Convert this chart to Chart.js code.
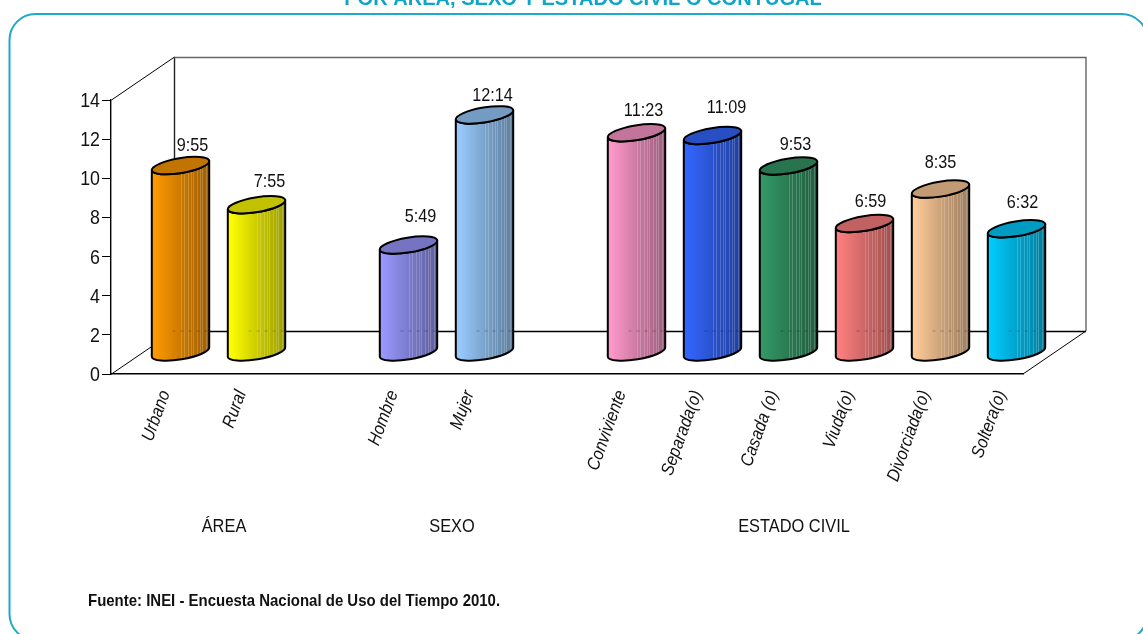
<!DOCTYPE html>
<html>
<head>
<meta charset="utf-8">
<style>html,body{margin:0;padding:0;background:#fff;overflow:hidden}canvas{display:block}</style>
<script src="https://cdn.jsdelivr.net/npm/chart.js@4"></script>
</head>
<body>
<canvas id="c" width="1143" height="634"></canvas>
<script>
const categories = ['Urbano','Rural','','Hombre','Mujer','','Conviviente','Separada(o)','Casada (o)','Viuda(o)','Divorciada(o)','Soltera(o)'];
const values = [9.55,7.55,null,5.49,12.14,null,11.23,11.09,9.53,6.59,8.35,6.32];
const valueLabels = ['9:55','7:55','','5:49','12:14','','11:23','11:09','9:53','6:59','8:35','6:32'];
const colors = ['#ff9900','#ffff00','#000000','#9999ff','#99ccff','#000000','#ff99cc','#3366ff','#339966','#ff8080','#ffcc99','#00ccff'];
const yTicks = [0,2,4,6,8,10,12,14];
const groupLabels = ['ÁREA','SEXO','ESTADO CIVIL'];
const titleText = 'POR ÁREA, SEXO Y ESTADO CIVIL O CONYUGAL';
const sourceText = 'Fuente: INEI - Encuesta Nacional de Uso del Tiempo 2010.';

const groupLabelX = [224,452,794];
const labelNudgeX = [12,13,0,12,8,0,7,14,7,6,0,6];
const labelNudgeY = [-21,-24,0,-30,-20,0,-23,-29,-22,-23,-28,-27];
const DEPTH_X = 63, DEPTH_Y = -43;
const face = '"Liberation Sans",Arial,sans-serif';
const stripes = [.5,.56,.63,.68,.72,.79,.84,.88,.94];

function shade(hex,f){
  const n=parseInt(hex.slice(1),16);
  return `rgb(${Math.round((n>>16&255)*f)},${Math.round((n>>8&255)*f)},${Math.round((n&255)*f)})`;
}
function cylinder(ctx,x,top,base,w,color){
  const a=w/2+0.6, b=7.4, th=-9.5*Math.PI/180;
  const ex=Math.cos(th)*a, ey=Math.sin(th)*a;
  const cx=x+DEPTH_X/2;
  const topY=top+DEPTH_Y/2, baseY=base+DEPTH_Y/2;
  const g=ctx.createLinearGradient(cx-ex,0,cx+ex,0);
  g.addColorStop(0,color);
  g.addColorStop(.08,shade(color,.98));
  g.addColorStop(.55,shade(color,.78));
  g.addColorStop(1,shade(color,.62));
  ctx.save();
  const body=()=>{
    ctx.beginPath();
    ctx.moveTo(cx-ex,topY-ey);
    ctx.lineTo(cx-ex,baseY-ey);
    ctx.ellipse(cx,baseY,a,b,th,Math.PI,0,true);
    ctx.lineTo(cx+ex,topY+ey);
    ctx.ellipse(cx,topY,a,b,th,0,Math.PI,false);
    ctx.closePath();
  };
  body();
  ctx.fillStyle=g; ctx.fill();
  ctx.save();
  ctx.clip();
  ctx.lineWidth=1; ctx.strokeStyle='rgba(255,255,255,.2)';
  stripes.forEach(s=>{
    const px=Math.round(cx-ex+2*ex*s)+.5;
    ctx.beginPath(); ctx.moveTo(px,topY-20); ctx.lineTo(px,baseY+20); ctx.stroke();
  });
  ctx.lineWidth=1; ctx.strokeStyle='rgba(0,0,0,.25)'; ctx.setLineDash([3,5]);
  ctx.beginPath(); ctx.moveTo(cx-8,base+DEPTH_Y+.5); ctx.lineTo(cx+ex,base+DEPTH_Y+.5); ctx.stroke();
  ctx.setLineDash([]);
  ctx.restore();
  body();
  ctx.lineWidth=2; ctx.strokeStyle='#000'; ctx.lineJoin='round'; ctx.stroke();
  ctx.beginPath();
  ctx.ellipse(cx,topY,a,b,th,0,Math.PI*2);
  ctx.fillStyle=shade(color,.76); ctx.fill(); ctx.stroke();
  ctx.restore();
}

// The page has no condensed face installed, so text is narrowed horizontally where it is drawn.
const canvasEl = document.getElementById('c');
const rawCtx = canvasEl.getContext('2d');
const baseFillText = rawCtx.fillText.bind(rawCtx);
let textSqueeze = 0.89;
rawCtx.fillText = function(t,x,y){
  rawCtx.save();
  rawCtx.translate(x,y+(rawCtx.textBaseline==='middle'?1.5:0));
  rawCtx.scale(textSqueeze,1);
  baseFillText(t,0,0);
  rawCtx.restore();
};

const scene = {
  id:'scene',
  beforeDraw(chart){
    const {ctx,chartArea:{left,right,top,bottom}}=chart;
    ctx.save();
    ctx.strokeStyle='#1fa9c9'; ctx.lineWidth=2;
    ctx.beginPath(); ctx.roundRect(9.5,14,1138,626,26); ctx.stroke();
    ctx.fillStyle='#0ea5c6'; ctx.font='bold 21px '+face; ctx.textAlign='center'; ctx.textBaseline='alphabetic';
    textSqueeze=.955;
    ctx.fillText(titleText,583,4.5);
    textSqueeze=.89;
    ctx.strokeStyle='#000'; ctx.lineWidth=1;
    ctx.beginPath();
    ctx.moveTo(left+.5,top); ctx.lineTo(left+DEPTH_X+.5,top+DEPTH_Y);
    ctx.moveTo(left+.5,bottom); ctx.lineTo(left+DEPTH_X+.5,bottom+DEPTH_Y);
    ctx.moveTo(right,bottom); ctx.lineTo(right+DEPTH_X,bottom+DEPTH_Y);
    ctx.stroke();
    ctx.strokeStyle='#222'; ctx.lineWidth=1.4;
    ctx.beginPath(); ctx.moveTo(left+DEPTH_X+.5,bottom+DEPTH_Y); ctx.lineTo(left+DEPTH_X+.5,top+DEPTH_Y); ctx.stroke();
    ctx.strokeStyle='#666'; ctx.lineWidth=1.4;
    ctx.beginPath(); ctx.moveTo(left+DEPTH_X+.5,top+DEPTH_Y+.5); ctx.lineTo(right+DEPTH_X,top+DEPTH_Y+.5); ctx.lineTo(right+DEPTH_X,bottom+DEPTH_Y); ctx.stroke();
    ctx.strokeStyle='#000'; ctx.lineWidth=1.4;
    ctx.beginPath(); ctx.moveTo(left+DEPTH_X,bottom+DEPTH_Y+.5); ctx.lineTo(right+DEPTH_X,bottom+DEPTH_Y+.5); ctx.stroke();
    ctx.restore();
  },
  beforeDatasetDraw(chart,args){
    const {ctx}=chart, meta=args.meta, ds=chart.data.datasets[args.index];
    meta.data.forEach((el,i)=>{
      if(values[i]==null) return;
      const p=el.getProps(['x','y','base','width'],true);
      cylinder(ctx,p.x,p.y,p.base,p.width,ds.backgroundColor[i]);
    });
    return false;
  },
  afterDraw(chart){
    const {ctx}=chart, meta=chart.getDatasetMeta(0);
    ctx.save();
    ctx.fillStyle='#111'; ctx.textAlign='center'; ctx.textBaseline='middle';
    ctx.font='18px '+face; textSqueeze=.9;
    meta.data.forEach((el,i)=>{
      if(values[i]==null) return;
      ctx.fillText(valueLabels[i],el.x+DEPTH_X/2+labelNudgeX[i],el.y+DEPTH_Y/2+labelNudgeY[i]);
    });
    ctx.font='18px '+face; textSqueeze=.91;
    groupLabels.forEach((t,i)=>ctx.fillText(t,groupLabelX[i],526));
    ctx.textAlign='left'; ctx.font='bold 17px '+face; ctx.fillStyle='#111'; textSqueeze=.88;
    ctx.fillText(sourceText,88,600);
    textSqueeze=.89;
    ctx.restore();
  }
};

new Chart(canvasEl,{
  type:'bar',
  data:{labels:categories,datasets:[{data:values,backgroundColor:colors,categoryPercentage:.75,barPercentage:1}]},
  options:{
    responsive:false,animation:false,
    layout:{padding:{top:100,right:120,left:0,bottom:0}},
    plugins:{legend:{display:false},title:{display:false},tooltip:{enabled:false}},
    scales:{
      x:{
        afterFit(s){s.height=260;},
        grid:{display:false},
        border:{display:true,color:'#000',width:1.4},
        ticks:{autoSkip:false,minRotation:70,maxRotation:70,padding:5,labelOffset:15,color:'#111',font:{family:face,size:18,style:'italic'}}
      },
      y:{
        min:0,max:14,
        afterFit(s){s.width=111;},
        afterBuildTicks(s){s.ticks=yTicks.map(v=>({value:v}));},
        grid:{drawOnChartArea:false,drawTicks:true,tickLength:9,color:'#000',lineWidth:1},
        border:{display:true,color:'#000',width:1.4},
        ticks:{padding:2,color:'#111',font:{family:face,size:20}}
      }
    }
  },
  plugins:[scene]
});
</script>
</body>
</html>
